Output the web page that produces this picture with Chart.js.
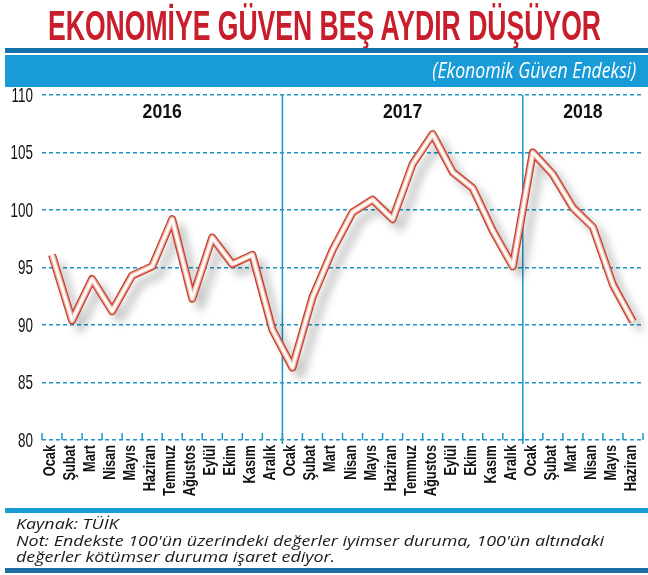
<!DOCTYPE html>
<html>
<head>
<meta charset="utf-8">
<script src="https://cdn.jsdelivr.net/npm/chart.js@4.4.1/dist/chart.umd.min.js"></script>
<style>
body { margin: 0; background: #fff; }
#wrap { position: relative; width: 648px; height: 575px; overflow: hidden; font-family: "Liberation Sans", sans-serif; }
#chart { position: absolute; left: 0; top: 0; }
.title { position: absolute; left: 48px; top: 1px; font-weight: bold; font-size: 42px; line-height: 50px; color: #c81e2c; white-space: nowrap; transform-origin: 0 0; }
.bar { position: absolute; left: 5px; right: 0; }
.sub { position: absolute; right: 12px; top: 56px; font-family: "Open Sans", sans-serif; font-style: italic; font-size: 21px; line-height: 28px; color: #fff; white-space: nowrap; transform-origin: 100% 0; }
.foot { position: absolute; left: 16px; top: 515px; font-family: "Open Sans", sans-serif; font-style: italic; font-size: 15px; line-height: 16.5px; color: #1a1a1a; white-space: nowrap; transform-origin: 0 0; }
</style>
</head>
<body>
<div id="wrap">
  <canvas id="chart" width="648" height="575"></canvas>
  <div class="title" id="title">EKONOMİYE GÜVEN BEŞ AYDIR DÜŞÜYOR</div>
  <div class="bar" style="top:48px;height:5px;background:#1573ab"></div>
  <div class="bar" style="top:55px;height:32px;background:#189bd7"></div>
  <div class="sub" id="sub">(Ekonomik Güven Endeksi)</div>
  <div class="bar" style="top:508px;height:5px;background:#1a9bd6"></div>
  <div class="foot" id="foot"><span id="l1">Kaynak: TÜİK</span><br><span id="l2">Not: Endekste 100'ün üzerindeki değerler iyimser duruma, 100'ün altındaki</span><br>değerler kötümser duruma işaret ediyor.</div>
  <div class="bar" style="top:568px;height:5px;background:#1d70a6"></div>
</div>
<script>
const months = ['Ocak', 'Şubat', 'Mart', 'Nisan', 'Mayıs', 'Haziran', 'Temmuz', 'Ağustos', 'Eylül', 'Ekim', 'Kasım', 'Aralık'];
const years = ['2016', '2017', '2018'];
const monthsPerYear = [12, 12, 6];

const values2016 = [96.1, 90.4, 94.0, 91.2, 94.3, 95.1, 99.2, 92.3, 97.6, 95.3, 96.1, 89.6];
const values2017 = [86.3, 92.4, 96.5, 99.8, 100.9, 99.2, 104.0, 106.6, 103.3, 101.9, 98.2, 95.1];
const values2018 = [105.0, 103.1, 100.2, 98.5, 93.5, 90.3];

const yTicks = [80, 85, 90, 95, 100, 105, 110];

const labels = [];
years.forEach((y, i) => months.slice(0, monthsPerYear[i]).forEach(m => labels.push(m)));
const values = [...values2016, ...values2017, ...values2018];

const blue = '#1a95c4';
const fontFam = '"Liberation Sans", sans-serif';

// fit titles to the width they take in the original
function fit(id, w) {
	const el = document.getElementById(id);
	el.style.transform = 'scaleX(' + (w / el.getBoundingClientRect().width) + ')';
}
fit('title', 553);
fit('sub', 204);
const footScale = 588 / document.getElementById('l2').getBoundingClientRect().width;
document.getElementById('foot').style.transform = 'scaleX(' + footScale + ')';

// condensed text: the original uses a narrow face
function narrowText(ctx, text, x, y, angle, squeeze) {
	ctx.save();
	ctx.translate(x, y);
	ctx.rotate(angle);
	ctx.scale(squeeze, 1);
	ctx.fillText(text, 0, 0);
	ctx.restore();
}

// baseline ticks, year separators, year captions and condensed tick labels
const frame = {
	id: 'frame',
	beforeDatasetsDraw(chart) {
		const {ctx, chartArea, scales: {x, y}} = chart;
		const step = x.getPixelForValue(1) - x.getPixelForValue(0);
		ctx.save();
		ctx.strokeStyle = blue;
		ctx.lineWidth = 1.5;
		for (let i = 0; i <= labels.length; i++) {
			const px = x.getPixelForValue(i) - step / 2;
			ctx.beginPath();
			ctx.moveTo(px, chartArea.bottom);
			ctx.lineTo(px, chartArea.bottom - 7);
			ctx.stroke();
		}
		let start = 0;
		ctx.font = 'bold 20px ' + fontFam;
		ctx.fillStyle = '#111';
		ctx.textAlign = 'center';
		ctx.textBaseline = 'alphabetic';
		years.forEach((yr, i) => {
			const end = start + monthsPerYear[i] - 1;
			const cx = (x.getPixelForValue(start) + x.getPixelForValue(end)) / 2;
			narrowText(ctx, yr, cx, chartArea.top + 23, 0, 0.88);
			if (i > 0) {
				const px = x.getPixelForValue(start) - step / 2;
				ctx.beginPath();
				ctx.moveTo(px, chartArea.top);
				ctx.lineTo(px, chartArea.bottom + 4);
				ctx.stroke();
			}
			start = end + 1;
		});

		// month labels, rotated
		ctx.font = 'bold 16px ' + fontFam;
		ctx.textAlign = 'right';
		ctx.textBaseline = 'alphabetic';
		labels.forEach((lab, i) => {
			const px = x.getPixelForValue(i);
			ctx.save();
			ctx.translate(px + 3, chartArea.bottom + 5);
			ctx.rotate(-Math.PI / 2);
			ctx.scale(0.8, 1);
			ctx.fillText(lab, 0, 0);
			ctx.restore();
		});

		// value labels
		ctx.font = '21px ' + fontFam;
		ctx.textAlign = 'right';
		ctx.textBaseline = 'middle';
		yTicks.forEach(v => narrowText(ctx, String(v), 33, y.getPixelForValue(v) + 1, 0, 0.64));
		ctx.restore();
	},
	beforeDatasetDraw(chart, args) {
		if (args.index !== 0) return;
		const ctx = chart.ctx;
		ctx.save();
		ctx.shadowColor = 'rgba(0,0,0,0.22)';
		ctx.shadowBlur = 8;
		ctx.shadowOffsetX = 8;
		ctx.shadowOffsetY = 8;
	},
	afterDatasetDraw(chart, args) {
		if (args.index === 0) chart.ctx.restore();
	}
};

const lineBase = {data: values, pointRadius: 0, tension: 0, borderJoinStyle: 'round', borderCapStyle: 'butt', fill: false};

new Chart(document.getElementById('chart'), {
	type: 'line',
	data: {
		labels,
		datasets: [
			{...lineBase, borderColor: '#c33f2b', borderWidth: 8, order: 3},
			{...lineBase, borderColor: '#eeb0a2', borderWidth: 5.5, order: 2},
			{...lineBase, borderColor: '#fffbfa', borderWidth: 3, order: 1}
		]
	},
	options: {
		responsive: false,
		animation: false,
		layout: {padding: {top: 95, right: 5, left: 0, bottom: 0}},
		plugins: {legend: {display: false}, tooltip: {enabled: false}},
		scales: {
			x: {
				offset: true,
				grid: {display: false},
				border: {display: false},
				ticks: {display: false},
				afterFit(scale) { scale.height = 135; }
			},
			y: {
				min: yTicks[0], max: yTicks[yTicks.length - 1],
				grid: {color: blue, lineWidth: 1.5, drawTicks: false},
				border: {display: false, dash: [4, 3]},
				ticks: {stepSize: yTicks[1] - yTicks[0], display: false},
				afterFit(scale) { scale.width = 42; }
			}
		}
	},
	plugins: [frame]
});
</script>
</body>
</html>
